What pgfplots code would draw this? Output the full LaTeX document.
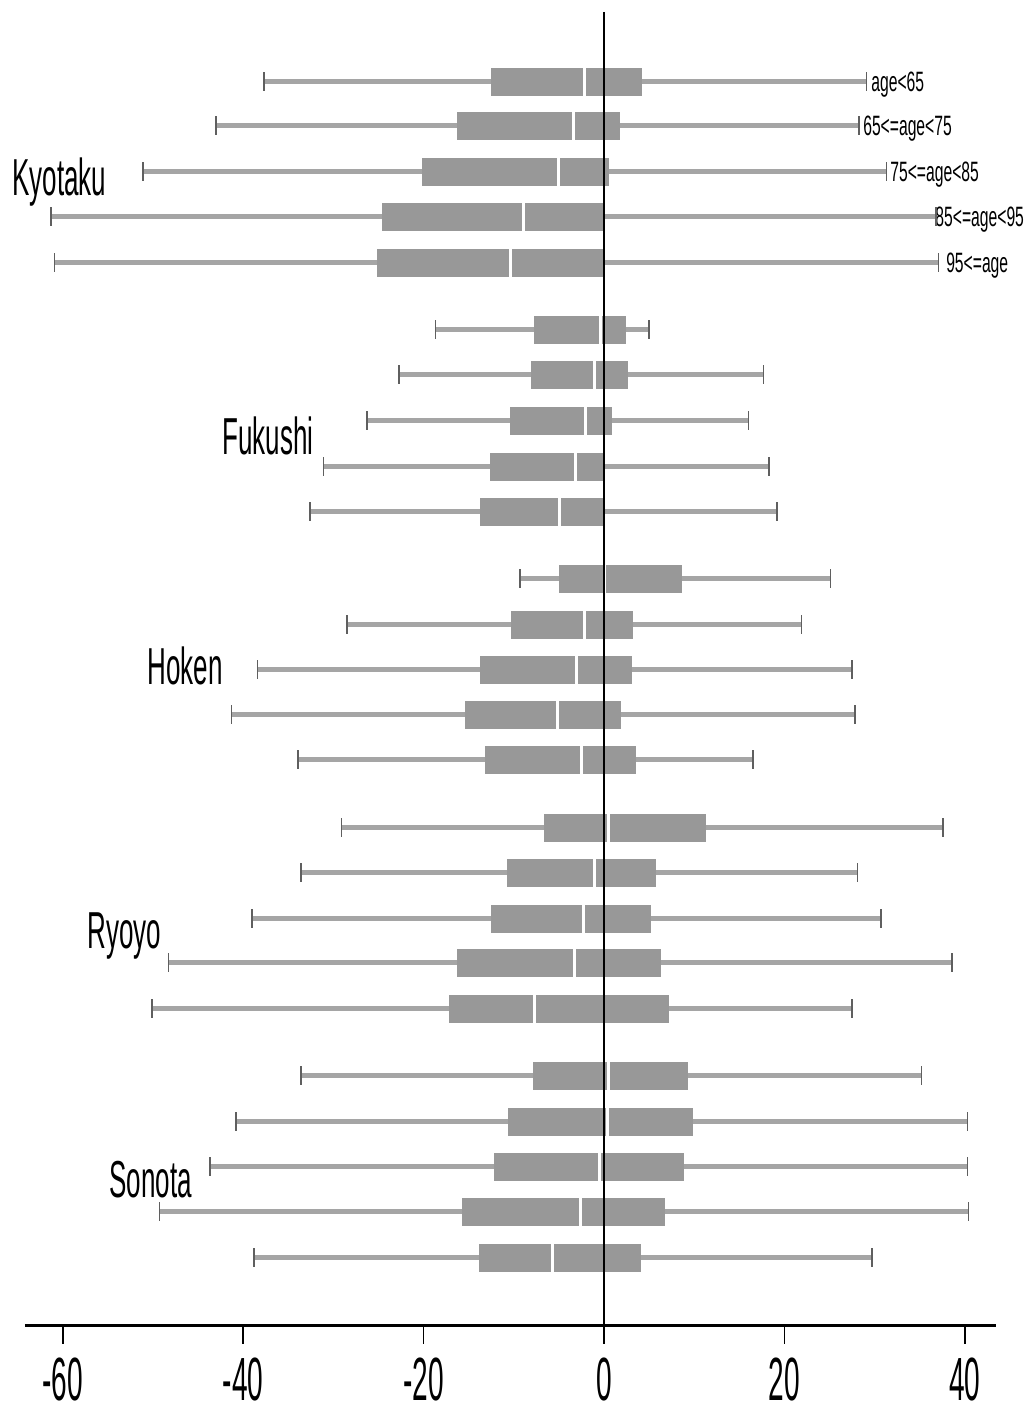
\documentclass[border=0pt]{standalone}
\usepackage{pgfplots}
\pgfplotsset{compat=1.18}
\usepgfplotslibrary{statistics}
\usepackage{fontspec}
\setmainfont{Liberation Sans}
\newfontfamily\grpfont{Liberation Sans}[FakeStretch=0.5]
\newfontfamily\tickfont{Liberation Sans}[FakeStretch=0.46]
\newfontfamily\agefont{Liberation Sans}[FakeStretch=0.56]
\definecolor{boxgray}{RGB}{152,152,152}
\definecolor{whgray}{RGB}{165,165,165}
\definecolor{capgray}{RGB}{95,95,95}
\pgfplotsset{
  boxplot/draw/whisker/.code 2 args={
    \draw[line width=2.5pt, whgray] (boxplot cs:#1) -- (boxplot cs:#2);
  },
}
\begin{document}
\begin{tikzpicture}
\path[use as bounding box] (0,0) rectangle (514.5pt,706.5pt);
\begin{axis}[
  at={(12.5pt,43.5pt)}, anchor=south west,
  scale only axis, width=485.5pt, height=657pt,
  xmin=-64.19, xmax=43.46, ymin=-1326, ymax=-12,
  axis x line=bottom, axis y line=none,
  x axis line style={-, line width=1.5pt, black},
  xtick={-60,-40,-20,0,20,40},
  xticklabels={-60,-40,-20,0,20,40},
  tick align=outside, major tick length=9pt,
  xtick style={line width=0.75pt, black},
  xticklabel style={font=\tickfont\fontsize{30.5}{34}\selectfont, inner sep=0pt, yshift=-7pt},
  clip=false,
  boxplot/draw direction=x,
  boxplot/box extend=28,
  boxplot/every box/.style={fill=boxgray, draw=none},
  boxplot/every median/.style={white, line width=1.5pt},
]
% Kyotaku
\addplot[boxgray, boxplot prepared={draw position=-82, lower whisker=-37.7, lower quartile=-12.57, median=-2.2, upper quartile=4.2, upper whisker=29.1}] coordinates {};
\addplot[boxgray, boxplot prepared={draw position=-126, lower whisker=-43.0, lower quartile=-16.3, median=-3.35, upper quartile=1.8, upper whisker=28.3}] coordinates {};
\addplot[boxgray, boxplot prepared={draw position=-172, lower whisker=-51.1, lower quartile=-20.2, median=-5.1, upper quartile=0.6, upper whisker=31.3}] coordinates {};
\addplot[boxgray, boxplot prepared={draw position=-217, lower whisker=-61.3, lower quartile=-24.6, median=-8.9, upper quartile=0.1, upper whisker=36.8}] coordinates {};
\addplot[boxgray, boxplot prepared={draw position=-263, lower whisker=-60.9, lower quartile=-25.2, median=-10.4, upper quartile=0.1, upper whisker=37.1}] coordinates {};
% Fukushi
\addplot[boxgray, boxplot prepared={draw position=-330, lower whisker=-18.7, lower quartile=-7.8, median=-0.4, upper quartile=2.4, upper whisker=5.0}] coordinates {};
\addplot[boxgray, boxplot prepared={draw position=-375, lower whisker=-22.7, lower quartile=-8.1, median=-1.0, upper quartile=2.7, upper whisker=17.7}] coordinates {};
\addplot[boxgray, boxplot prepared={draw position=-421, lower whisker=-26.3, lower quartile=-10.4, median=-2.1, upper quartile=0.9, upper whisker=16.0}] coordinates {};
\addplot[boxgray, boxplot prepared={draw position=-467, lower whisker=-31.1, lower quartile=-12.6, median=-3.2, upper quartile=0.1, upper whisker=18.3}] coordinates {};
\addplot[boxgray, boxplot prepared={draw position=-512, lower whisker=-32.6, lower quartile=-13.7, median=-4.9, upper quartile=0.1, upper whisker=19.2}] coordinates {};
% Hoken
\addplot[boxgray, boxplot prepared={draw position=-579, lower whisker=-9.3, lower quartile=-5.0, median=0.0, upper quartile=8.7, upper whisker=25.1}] coordinates {};
\addplot[boxgray, boxplot prepared={draw position=-625, lower whisker=-28.5, lower quartile=-10.3, median=-2.15, upper quartile=3.2, upper whisker=21.9}] coordinates {};
\addplot[boxgray, boxplot prepared={draw position=-670, lower whisker=-38.4, lower quartile=-13.7, median=-3.0, upper quartile=3.1, upper whisker=27.5}] coordinates {};
\addplot[boxgray, boxplot prepared={draw position=-715, lower whisker=-41.3, lower quartile=-15.4, median=-5.2, upper quartile=1.9, upper whisker=27.8}] coordinates {};
\addplot[boxgray, boxplot prepared={draw position=-760, lower whisker=-33.9, lower quartile=-13.2, median=-2.5, upper quartile=3.5, upper whisker=16.5}] coordinates {};
% Ryoyo
\addplot[boxgray, boxplot prepared={draw position=-828, lower whisker=-29.1, lower quartile=-6.6, median=0.5, upper quartile=11.3, upper whisker=37.6}] coordinates {};
\addplot[boxgray, boxplot prepared={draw position=-873, lower whisker=-33.6, lower quartile=-10.7, median=-1.05, upper quartile=5.8, upper whisker=28.1}] coordinates {};
\addplot[boxgray, boxplot prepared={draw position=-919, lower whisker=-39.0, lower quartile=-12.5, median=-2.3, upper quartile=5.2, upper whisker=30.7}] coordinates {};
\addplot[boxgray, boxplot prepared={draw position=-963, lower whisker=-48.3, lower quartile=-16.3, median=-3.3, upper quartile=6.3, upper whisker=38.6}] coordinates {};
\addplot[boxgray, boxplot prepared={draw position=-1009, lower whisker=-50.1, lower quartile=-17.2, median=-7.75, upper quartile=7.2, upper whisker=27.5}] coordinates {};
% Sonota
\addplot[boxgray, boxplot prepared={draw position=-1076, lower whisker=-33.6, lower quartile=-7.9, median=0.48, upper quartile=9.35, upper whisker=35.2}] coordinates {};
\addplot[boxgray, boxplot prepared={draw position=-1122, lower whisker=-40.8, lower quartile=-10.6, median=0.4, upper quartile=9.9, upper whisker=40.3}] coordinates {};
\addplot[boxgray, boxplot prepared={draw position=-1167, lower whisker=-43.7, lower quartile=-12.2, median=-0.55, upper quartile=8.9, upper whisker=40.3}] coordinates {};
\addplot[boxgray, boxplot prepared={draw position=-1212, lower whisker=-49.3, lower quartile=-15.7, median=-2.65, upper quartile=6.8, upper whisker=40.4}] coordinates {};
\addplot[boxgray, boxplot prepared={draw position=-1258, lower whisker=-38.8, lower quartile=-13.9, median=-5.7, upper quartile=4.1, upper whisker=29.7}] coordinates {};
% whisker caps
\addplot[only marks, mark=|, mark size=4.75pt, mark options={capgray, line width=0.8pt}] coordinates {
(-37.7,-82) (29.1,-82) (-43.0,-126) (28.3,-126) (-51.1,-172) (31.3,-172) (-61.3,-217) (36.8,-217) (-60.9,-263) (37.1,-263)
(-18.7,-330) (5.0,-330) (-22.7,-375) (17.7,-375) (-26.3,-421) (16.0,-421) (-31.1,-467) (18.3,-467) (-32.6,-512) (19.2,-512)
(-9.3,-579) (25.1,-579) (-28.5,-625) (21.9,-625) (-38.4,-670) (27.5,-670) (-41.3,-715) (27.8,-715) (-33.9,-760) (16.5,-760)
(-29.1,-828) (37.6,-828) (-33.6,-873) (28.1,-873) (-39.0,-919) (30.7,-919) (-48.3,-963) (38.6,-963) (-50.1,-1009) (27.5,-1009)
(-33.6,-1076) (35.2,-1076) (-40.8,-1122) (40.3,-1122) (-43.7,-1167) (40.3,-1167) (-49.3,-1212) (40.4,-1212) (-38.8,-1258) (29.7,-1258)
};
% zero line
\draw[line width=1pt, black] (axis cs:0,-12) -- (axis cs:0,-1326);
% group labels
\begin{scope}[every node/.style={anchor=base west, inner sep=0pt, font=\grpfont\fontsize{26}{30}\selectfont}]
\node at (axis cs:-65.63,-196) {Kyotaku};
\node at (axis cs:-42.35,-455) {Fukushi};
\node at (axis cs:-50.67,-685) {Hoken};
\node at (axis cs:-57.32,-949) {Ryoyo};
\node at (axis cs:-54.88,-1198) {Sonota};
\end{scope}
% age labels
\begin{scope}[every node/.style={anchor=base west, inner sep=0pt, font=\agefont\fontsize{14}{16}\selectfont}]
\node at (axis cs:29.6,-92) {age<65};
\node at (axis cs:28.7,-136) {65<=age<75};
\node at (axis cs:31.7,-182) {75<=age<85};
\node at (axis cs:36.7,-227) {85<=age<95};
\node at (axis cs:37.9,-273) {95<=age};
\end{scope}
\end{axis}
\end{tikzpicture}
\end{document}
